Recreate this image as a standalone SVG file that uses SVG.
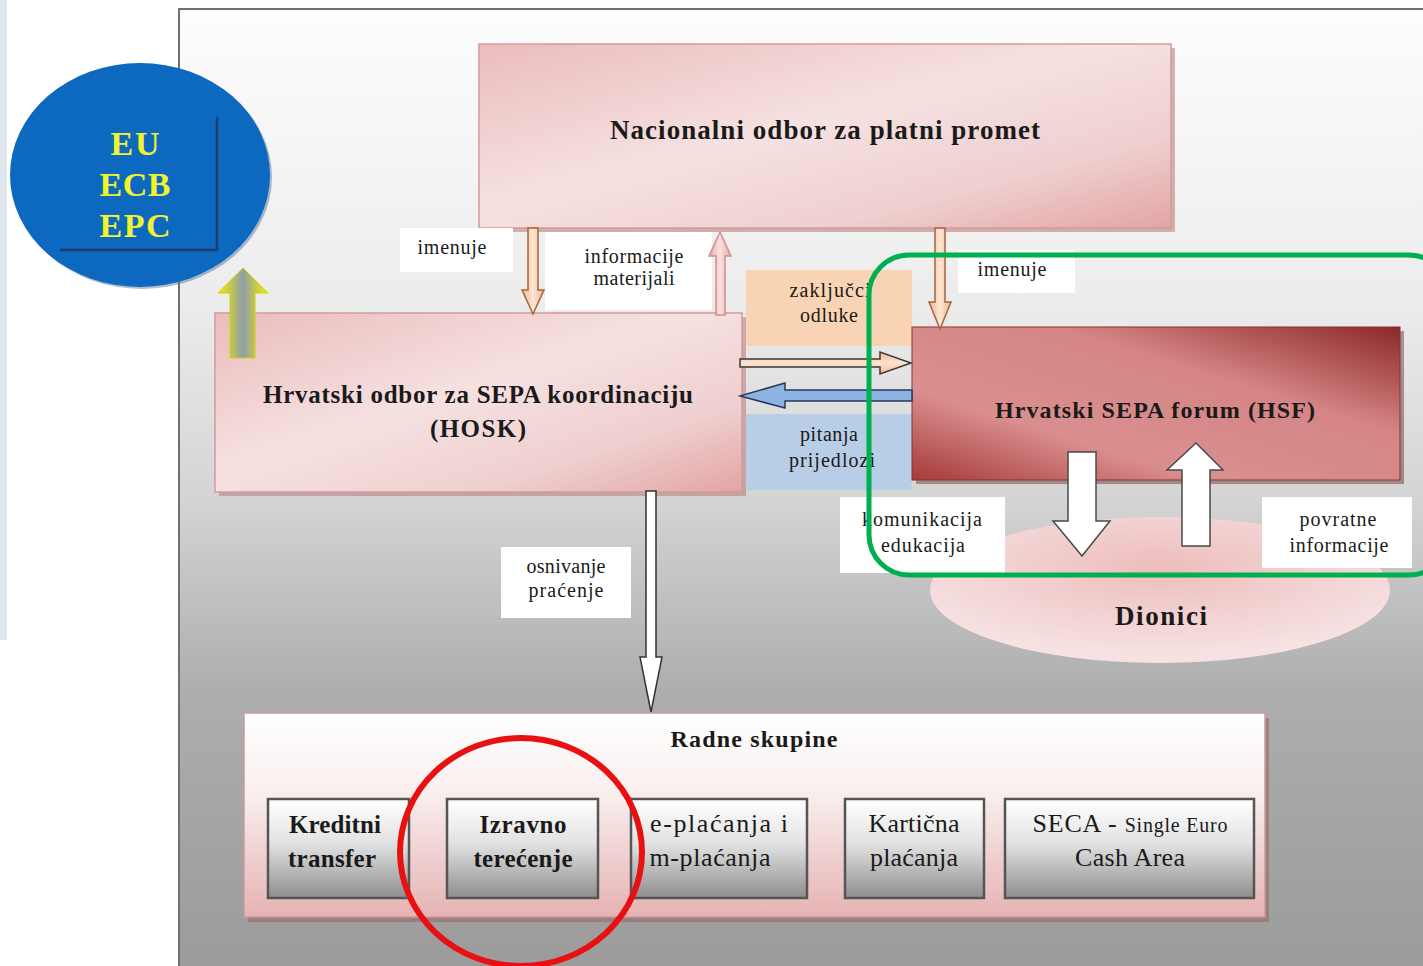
<svg xmlns="http://www.w3.org/2000/svg" width="1423" height="966" viewBox="0 0 1423 966">
<defs>
<style>
text{font-family:"Liberation Serif","Times New Roman",serif;fill:#1a1a1a;text-anchor:middle}
.t{font-weight:bold;font-size:26px}
.lab{font-size:20px}
.sub{font-size:25px}
.lbox{fill:#ffffff}
.conn{stroke-width:1.5;stroke-linejoin:miter}
</style>
<linearGradient id="bg" x1="0" y1="0" x2="0" y2="1">
<stop offset="0" stop-color="#fdfdfd"/>
<stop offset="0.3" stop-color="#ececec"/>
<stop offset="0.5" stop-color="#d4d4d4"/>
<stop offset="0.7" stop-color="#adadad"/>
<stop offset="1" stop-color="#9a9a9a"/>
</linearGradient>
<linearGradient id="pink" x1="0" y1="0" x2="1" y2="1">
<stop offset="0" stop-color="#ebbcbc"/>
<stop offset="0.45" stop-color="#f6e1e1"/>
<stop offset="0.75" stop-color="#efcfcf"/>
<stop offset="1" stop-color="#e3a4a4"/>
</linearGradient>
<linearGradient id="hsf" x1="1" y1="0" x2="0" y2="1">
<stop offset="0" stop-color="#8c2828"/>
<stop offset="0.35" stop-color="#d58585"/>
<stop offset="0.7" stop-color="#da8f8f"/>
<stop offset="1" stop-color="#a63a3a"/>
</linearGradient>
<radialGradient id="dion" cx="0.5" cy="0.35" r="0.6">
<stop offset="0" stop-color="#eebcbc"/>
<stop offset="1" stop-color="#f6e2e2"/>
</radialGradient>
<linearGradient id="radne" x1="0" y1="0" x2="0" y2="1">
<stop offset="0" stop-color="#ffffff"/>
<stop offset="0.4" stop-color="#f9eeee"/>
<stop offset="1" stop-color="#e6b2b2"/>
</linearGradient>
<linearGradient id="gray" x1="0" y1="0" x2="0" y2="1">
<stop offset="0" stop-color="#ffffff"/>
<stop offset="0.45" stop-color="#e2e2e2"/>
<stop offset="1" stop-color="#8e8e8e"/>
</linearGradient>
<linearGradient id="yel" x1="0" y1="0" x2="1" y2="0">
<stop offset="0" stop-color="#f4f000"/>
<stop offset="0.5" stop-color="#8f9ea6"/>
<stop offset="1" stop-color="#f4f000"/>
</linearGradient>
<linearGradient id="peach" x1="0" y1="0" x2="1" y2="0">
<stop offset="0" stop-color="#f0b48a"/>
<stop offset="0.5" stop-color="#fde6d4"/>
<stop offset="1" stop-color="#f0b48a"/>
</linearGradient>
<linearGradient id="peachH" x1="0" y1="0" x2="0" y2="1">
<stop offset="0" stop-color="#f3b88e"/>
<stop offset="0.5" stop-color="#fde3cf"/>
<stop offset="1" stop-color="#f3b88e"/>
</linearGradient>
<linearGradient id="pinkA" x1="0" y1="0" x2="1" y2="0">
<stop offset="0" stop-color="#eaa9a9"/>
<stop offset="0.5" stop-color="#fbe0e0"/>
<stop offset="1" stop-color="#eaa9a9"/>
</linearGradient>
</defs>

<!-- page -->
<rect x="0" y="0" width="1423" height="966" fill="#ffffff"/>
<rect x="0" y="0" width="7" height="640" fill="#dfe6ee"/>
<rect x="179" y="9" width="1260" height="980" fill="url(#bg)" stroke="#707070" stroke-width="2"/>

<!-- EU circle -->
<g id="eu">
<ellipse cx="142" cy="177" rx="130" ry="112" fill="#5a7a9a" opacity="0.5"/>
<ellipse cx="140" cy="175" rx="130" ry="112" fill="#0d69bf"/>
<path d="M217,117 L217,250 L60,250" fill="none" stroke="#1c3d6e" stroke-width="2.5"/>
<text x="135" y="155" class="t" style="font-size:34px;fill:#f2f230" textLength="49">EU</text>
<text x="135" y="196" class="t" style="font-size:34px;fill:#f2f230" textLength="71">ECB</text>
<text x="135" y="237" class="t" style="font-size:34px;fill:#f2f230" textLength="71">EPC</text>
</g>

<!-- Dionici -->
<g id="dionici">
<ellipse cx="1160" cy="590" rx="230" ry="73" fill="url(#dion)"/>
<text x="1161" y="625" class="t" style="font-size:27px" textLength="92">Dionici</text>
</g>

<!-- Nacionalni -->
<g id="nacionalni">
<rect x="483" y="48" width="692" height="184" fill="#b98282" opacity="0.6"/>
<rect x="479" y="44" width="692" height="184" fill="url(#pink)" stroke="#d39a9a" stroke-width="1.5"/>
<text x="825" y="139" class="t" style="font-size:27px" textLength="430">Nacionalni odbor za platni promet</text>
</g>

<!-- HOSK -->
<g id="hosk">
<rect x="219" y="317" width="527" height="179" fill="#b98282" opacity="0.6"/>
<rect x="215" y="313" width="527" height="179" fill="url(#pink)" stroke="#d39a9a" stroke-width="1.5"/>
<text x="478" y="403" class="t" style="font-size:25px" textLength="430">Hrvatski odbor za SEPA koordinaciju</text>
<text x="478" y="437" class="t" style="font-size:25px" textLength="96">(HOSK)</text>
</g>

<!-- label boxes -->
<g id="lab-zakljucci">
<rect x="746" y="270" width="166" height="76" fill="#f9d4b4"/>
<text x="830" y="297" class="lab" textLength="81">zaključci</text>
<text x="829" y="322" class="lab" textLength="58">odluke</text>
</g>
<g id="lab-pitanja">
<rect x="746" y="414" width="166" height="76" fill="#b8cde6"/>
<text x="829" y="441" class="lab" textLength="58">pitanja</text>
<text x="832" y="467" class="lab" textLength="86">prijedlozi</text>
</g>

<!-- HSF -->
<g id="hsf-node">
<rect x="916" y="331" width="488" height="153" fill="#6a3a3a" opacity="0.5"/>
<rect x="912" y="327" width="488" height="153" fill="url(#hsf)" stroke="#8a3030" stroke-width="1"/>
<text x="1155" y="418" class="t" style="font-size:24px" textLength="320">Hrvatski SEPA forum (HSF)</text>
</g>

<g id="lab-imenuje1">
<rect x="400" y="228" width="113" height="44" class="lbox"/>
<text x="452" y="254" class="lab" textLength="69">imenuje</text>
</g>
<g id="lab-informacije">
<rect x="545" y="232" width="167" height="78" class="lbox"/>
<text x="634" y="263" class="lab" textLength="99">informacije</text>
<text x="634" y="285" class="lab" textLength="81">materijali</text>
</g>
<g id="lab-imenuje2">
<rect x="958" y="250" width="117" height="43" class="lbox"/>
<text x="1012" y="276" class="lab" textLength="69">imenuje</text>
</g>
<g id="lab-osnivanje">
<rect x="501" y="547" width="130" height="71" class="lbox"/>
<text x="566" y="573" class="lab" textLength="79">osnivanje</text>
<text x="566" y="597" class="lab" textLength="75">praćenje</text>
</g>
<g id="lab-komunikacija">
<rect x="840" y="497" width="165" height="76" class="lbox"/>
<text x="922" y="526" class="lab" textLength="120">komunikacija</text>
<text x="923" y="552" class="lab" textLength="84">edukacija</text>
</g>
<g id="lab-povratne">
<rect x="1262" y="497" width="150" height="71" class="lbox"/>
<text x="1338" y="526" class="lab" textLength="77">povratne</text>
<text x="1339" y="552" class="lab" textLength="99">informacije</text>
</g>

<!-- connectors -->
<g id="connectors">
<path class="conn" d="M528,228 L538,228 L538,290 L544,290 L533,314 L522,290 L528,290 Z" fill="url(#peach)" stroke="#a5643e"/>
<path class="conn" d="M716,315 L725,315 L725,256 L731,256 L720,232 L709,256 L716,256 Z" fill="url(#pinkA)" stroke="#d28e8e"/>
<path class="conn" d="M935,228 L945,228 L945,302 L951,302 L940,329 L929,302 L935,302 Z" fill="url(#peach)" stroke="#a5643e"/>
<path class="conn" d="M740,359 L880,359 L880,352 L911,363 L880,374 L880,367 L740,367 Z" fill="url(#peachH)" stroke="#3a3a3a"/>
<path class="conn" d="M912,390 L785,390 L785,383 L740,396 L785,408 L785,401 L912,401 Z" fill="#8db3e2" stroke="#2a3a5a"/>
<path class="conn" d="M646,491 L656,491 L656,657 L662,657 L651,712 L640,657 L646,657 Z" fill="#ffffff" stroke="#333333"/>
<path class="conn" d="M1068,452 L1096,452 L1096,521 L1110,521 L1082,556 L1053,521 L1068,521 Z" fill="#ffffff" stroke="#4a4a4a"/>
<path class="conn" d="M1182,546 L1210,546 L1210,470 L1223,470 L1196,443 L1167,470 L1182,470 Z" fill="#ffffff" stroke="#4a4a4a"/>
<path d="M230,358 L255,358 L255,293 L268,293 L243,268 L218,293 L230,293 Z" fill="url(#yel)" stroke="#d8d000" stroke-width="1"/>
</g>

<!-- Radne skupine -->
<g id="radne">
<rect x="248" y="718" width="1021" height="204" fill="#9a6a6a" opacity="0.6"/>
<rect x="244" y="713" width="1021" height="204" fill="url(#radne)" stroke="#cc9a9a" stroke-width="1.5"/>
<text x="754" y="747" class="t" style="font-size:24px" textLength="167">Radne skupine</text>
</g>
<g id="wg-kreditni">
<rect x="268" y="799" width="141" height="99" fill="url(#gray)" stroke="#555" stroke-width="2.5"/>
<text x="335" y="833" class="t sub" textLength="92">Kreditni</text>
<text x="332" y="867" class="t sub" textLength="88">transfer</text>
</g>
<g id="wg-izravno">
<rect x="447" y="799" width="151" height="99" fill="url(#gray)" stroke="#555" stroke-width="2.5"/>
<text x="523" y="833" class="t sub" textLength="87">Izravno</text>
<text x="523" y="867" class="t sub" textLength="99">terećenje</text>
</g>
<g id="wg-eplacanja">
<rect x="631" y="799" width="176" height="99" fill="url(#gray)" stroke="#555" stroke-width="2.5"/>
<text x="719" y="832" class="sub" style="font-size:26px" textLength="138">e-plaćanja  i</text>
<text x="710" y="866" class="sub" style="font-size:26px" textLength="121">m-plaćanja</text>
</g>
<g id="wg-karticna">
<rect x="845" y="799" width="139" height="99" fill="url(#gray)" stroke="#555" stroke-width="2.5"/>
<text x="914" y="832" class="sub" style="font-size:26px" textLength="91">Kartična</text>
<text x="914" y="866" class="sub" style="font-size:26px" textLength="88">plaćanja</text>
</g>
<g id="wg-seca">
<rect x="1005" y="799" width="249" height="99" fill="url(#gray)" stroke="#555" stroke-width="2.5"/>
<text x="1130" y="832" class="sub" style="font-size:26px" textLength="195">SECA - <tspan style="font-size:20px">Single Euro</tspan></text>
<text x="1130" y="866" class="sub" style="font-size:26px" textLength="110">Cash Area</text>
</g>

<!-- highlights -->
<rect id="green-highlight" x="869" y="255" width="580" height="320" rx="40" ry="40" fill="none" stroke="#00b050" stroke-width="5"/>
<ellipse id="red-highlight" cx="521" cy="852" rx="121" ry="114" fill="none" stroke="#e81010" stroke-width="6"/>
</svg>
